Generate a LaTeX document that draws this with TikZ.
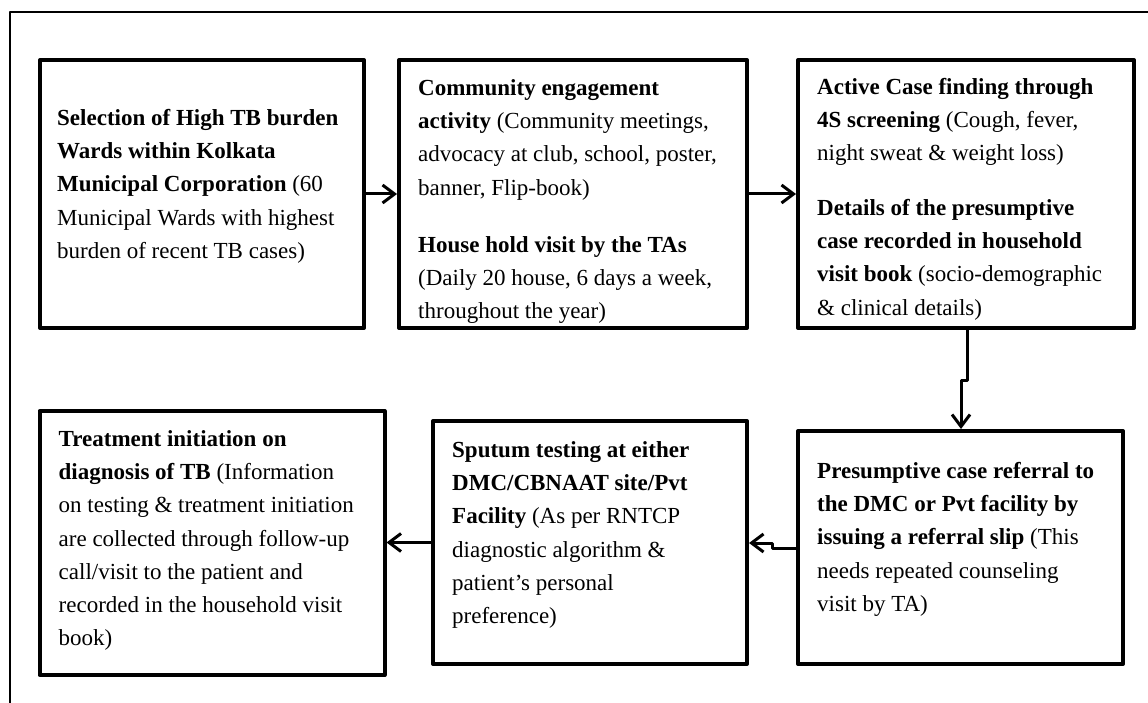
\documentclass[tikz,border=0pt]{standalone}
\usepackage{fontspec}
\setmainfont{Liberation Serif}
\usetikzlibrary{arrows.meta}
\newcommand{\stepfont}{\fontsize{23}{33.3}\selectfont}

\begin{document}
\begin{tikzpicture}[x=1pt, y=-1pt, line join=round]
\tikzset{box/.style={draw, line width=4pt, inner sep=0pt}, note/.style={anchor=north west, inner sep=0pt, align=left, font=\stepfont}, flow/.style={-{Straight Barb[length=12pt,width=18pt]}, line width=3pt}}

\useasboundingbox[fill=white] (0,0) rectangle (1148,703);

% frame
\draw[line width=1.5pt] (10,703) -- (10,12) -- (1148,12);

% boxes (px)
\node[box, minimum width=324pt, minimum height=268pt] (sel) at (202,194) {};
\node[box, minimum width=348pt, minimum height=268pt] (comm) at (573,194) {};
\node[box, minimum width=336pt, minimum height=268pt] (acf) at (966,194) {};
\node[box, minimum width=325pt, minimum height=233pt] (ref) at (960.5,547.5) {};
\node[box, minimum width=314pt, minimum height=243pt] (spt) at (590,542.5) {};
\node[box, minimum width=345pt, minimum height=264pt] (trt) at (212,543) {};

% texts
\node[note] (sel-t) at (57,109) {\textbf{Selection of High TB burden}\\
  \textbf{Wards within Kolkata}\\
  \textbf{Municipal Corporation} (60\\
  Municipal Wards with highest\\
  burden of recent TB cases)};
\node[note] (comm-t) at (418,79) {\textbf{Community engagement}\\
  \textbf{activity} (Community meetings,\\
  advocacy at club, school, poster,\\
  banner, Flip-book)\\[24pt]
  \textbf{House hold visit by the TAs}\\
  (Daily 20 house, 6 days a week,\\
  throughout the year)};
\node[note] (acf-t) at (817,78) {\textbf{Active Case finding through}\\
  \textbf{4S screening} (Cough, fever,\\
  night sweat \& weight loss)\\[21pt]
  \textbf{Details of the presumptive}\\
  \textbf{case recorded in household}\\
  \textbf{visit book} (socio-demographic\\
  \& clinical details)};
\node[note] (ref-t) at (817,462) {\textbf{Presumptive case referral to}\\
  \textbf{the DMC or Pvt facility by}\\
  \textbf{issuing a referral slip} (This\\
  needs repeated counseling\\
  visit by TA)};
\node[note] (spt-t) at (452,441) {\textbf{Sputum testing at either}\\
  \textbf{DMC/CBNAAT site/Pvt}\\
  \textbf{Facility} (As per RNTCP\\
  diagnostic algorithm \&\\
  patient’s personal\\
  preference)};
\node[note] (trt-t) at (58.5,430) {\textbf{Treatment initiation on}\\
  \textbf{diagnosis of TB} (Information\\
  on testing \& treatment initiation\\
  are collected through follow-up\\
  call/visit to the patient and\\
  recorded in the household visit\\
  book)};

% arrows
\coordinate (j1) at (967,380);
\coordinate (j2) at (961,380);
\coordinate (j3) at (772,548);
\coordinate (j4) at (772,543);
\draw[flow] (sel) -- (comm);
\draw[flow] (comm) -- (acf);
\draw[flow] (acf.south -| j1) -- (j1) -- (j2) -- (ref.north -| j2);
\draw[flow] (ref.west |- j3) -- (j3) -- (j4) -- (spt.east |- j4);
\draw[flow] (spt.west) -- (trt.east |- spt.west);
\end{tikzpicture}
\end{document}
